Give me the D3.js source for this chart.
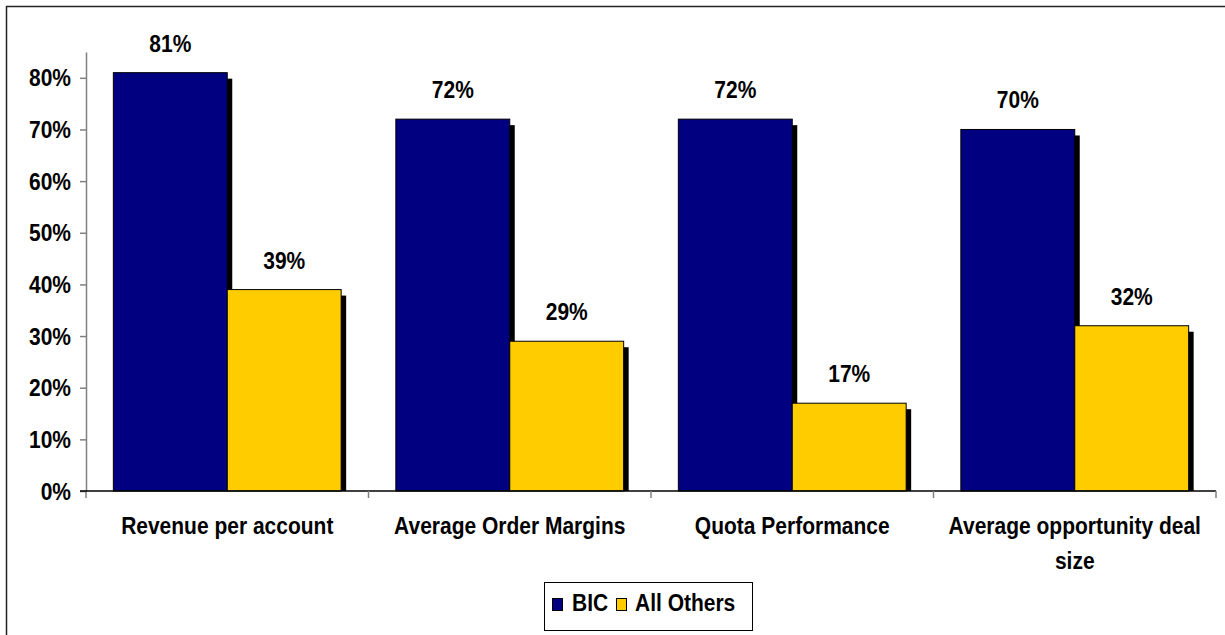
<!DOCTYPE html>
<html>
<head>
<meta charset="utf-8">
<script src="https://cdn.jsdelivr.net/npm/d3@7"></script>
<style>
  body { margin: 0; background: #fff; }
  svg { display: block; font-family: "Liberation Sans", Arial, sans-serif; font-weight: bold; }
</style>
</head>
<body>
<svg width="1225" height="635"></svg>
<script>
// Chart data
const categories = ["Revenue per account", "Average Order Margins", "Quota Performance", "Average opportunity deal size"];
const seriesNames = ["BIC", "All Others"];
const bicValues = [0.81, 0.72, 0.72, 0.70];
const othersValues = [0.39, 0.29, 0.17, 0.32];
const yTicks = [0, 0.1, 0.2, 0.3, 0.4, 0.5, 0.6, 0.7, 0.8];
const colors = ["#000080", "#FFCC00"];

const svg = d3.select("svg");
const margin = { left: 86, right: 9, top: 52, bottom: 144 };
const width = +svg.attr("width") - margin.left - margin.right;
const height = +svg.attr("height") - margin.top - margin.bottom;
const stretch = 1.12; // the original text is a bit taller than plain Arial

// outer frame (right / bottom edges fall outside the picture)
svg.append("rect")
  .attr("x", 6.5).attr("y", 6.5)
  .attr("width", 1240).attr("height", 660)
  .attr("fill", "none")
  .attr("stroke", "#222")
  .attr("stroke-width", 1.5);

const g = svg.append("g")
  .attr("transform", "translate(" + margin.left + "," + margin.top + ")");

const x = d3.scaleBand().domain(categories).range([0, width]).paddingInner(0).paddingOuter(0);
const xSub = d3.scaleBand().domain(seriesNames).range([0, x.bandwidth()]).paddingInner(0).paddingOuter(0.24);
const y = d3.scaleLinear().domain([0, 0.85]).range([height, 0]);

// long table built from arrays
const rows = [];
categories.forEach(function(c, i) {
  rows.push({ cat: c, series: "BIC", value: bicValues[i], color: colors[0] });
  rows.push({ cat: c, series: "All Others", value: othersValues[i], color: colors[1] });
});

// Y axis
const yAxis = g.append("g")
  .call(d3.axisLeft(y).tickValues(yTicks).tickFormat(d3.format(".0%")).tickSize(6).tickSizeOuter(0).tickPadding(9));
yAxis.selectAll("line, path").attr("stroke", "#808080").attr("stroke-width", 1.5);
yAxis.selectAll("text")
  .attr("font-size", "21px")
  .attr("font-weight", "bold")
  .attr("fill", "#000")
  .attr("font-family", "Liberation Sans, Arial, sans-serif")
  .attr("dy", "0.34em")
  .attr("transform", "scale(1," + stretch + ")");
// extension of the axis below the zero line
g.append("line")
  .attr("x1", 0).attr("x2", 0)
  .attr("y1", y(0)).attr("y2", y(0) + 7)
  .attr("stroke", "#808080").attr("stroke-width", 1.5);

// shadows
g.selectAll(".shadow")
  .data(rows)
  .enter()
  .append("rect")
  .attr("class", "shadow")
  .attr("x", function(d) { return x(d.cat) + xSub(d.series) + 5; })
  .attr("y", function(d) { return y(d.value) + 6; })
  .attr("width", xSub.bandwidth())
  .attr("height", function(d) { return y(0) - y(d.value) - 6; })
  .attr("fill", "#000");

// bars
g.selectAll(".bar")
  .data(rows)
  .enter()
  .append("rect")
  .attr("class", "bar")
  .attr("x", function(d) { return x(d.cat) + xSub(d.series); })
  .attr("y", function(d) { return y(d.value); })
  .attr("width", xSub.bandwidth())
  .attr("height", function(d) { return y(0) - y(d.value); })
  .attr("fill", function(d) { return d.color; })
  .attr("stroke", "#000")
  .attr("stroke-width", 1);

// value labels
g.selectAll(".value")
  .data(rows)
  .enter()
  .append("text")
  .attr("class", "value")
  .attr("transform", function(d) {
    const cx = x(d.cat) + xSub(d.series) + xSub.bandwidth() / 2;
    return "translate(" + cx + "," + (y(d.value) - 21) + ") scale(1," + stretch + ")";
  })
  .attr("text-anchor", "middle")
  .attr("font-size", "21px")
  .text(function(d) { return d3.format(".0%")(d.value); });

// X axis line and ticks at category boundaries
g.append("line")
  .attr("x1", -6).attr("x2", width)
  .attr("y1", y(0)).attr("y2", y(0))
  .attr("stroke", "#000").attr("stroke-width", 1.5);

const bounds = categories.slice(1).map(function(c) { return x(c); }).concat([width]);
g.selectAll(".xtick")
  .data(bounds)
  .enter()
  .append("line")
  .attr("class", "xtick")
  .attr("x1", function(d) { return d; }).attr("x2", function(d) { return d; })
  .attr("y1", y(0)).attr("y2", y(0) + 7)
  .attr("stroke", "#808080").attr("stroke-width", 1.5);

// category labels, wrapped to the band width
const catText = g.selectAll(".cat")
  .data(categories)
  .enter()
  .append("text")
  .attr("class", "cat")
  .attr("text-anchor", "middle")
  .attr("font-size", "21px")
  .attr("transform", function(d) {
    return "translate(" + (x(d) + x.bandwidth() / 2) + "," + (y(0) + 43) + ") scale(1," + stretch + ")";
  });

catText.each(function(d) {
  const t = d3.select(this);
  const words = d.split(" ");
  let line = [];
  let tspan = t.append("tspan").attr("x", 0).attr("dy", 0);
  words.forEach(function(w) {
    line.push(w);
    tspan.text(line.join(" "));
    if (tspan.node().getComputedTextLength() > x.bandwidth() - 10 && line.length > 1) {
      line.pop();
      tspan.text(line.join(" "));
      line = [w];
      tspan = t.append("tspan").attr("x", 0).attr("dy", 35 / stretch).text(w);
    }
  });
});

// legend
const legend = svg.append("g").attr("class", "legend");
legend.append("rect")
  .attr("x", 544.5).attr("y", 582.5)
  .attr("width", 208).attr("height", 48)
  .attr("fill", "#fff")
  .attr("stroke", "#000")
  .attr("stroke-width", 1);

const legendPos = [{ sx: 552, tx: 572 }, { sx: 616, tx: 635 }];
seriesNames.forEach(function(name, i) {
  const row = legend.append("g");
  row.append("rect")
    .attr("x", legendPos[i].sx + 0.5).attr("y", 598.5)
    .attr("width", 10).attr("height", 12)
    .attr("fill", colors[i])
    .attr("stroke", "#000")
    .attr("stroke-width", 1);
  row.append("text")
    .attr("transform", "translate(" + legendPos[i].tx + ",611) scale(1," + stretch + ")")
    .attr("font-size", "21px")
    .text(name);
});
</script>
</body>
</html>
